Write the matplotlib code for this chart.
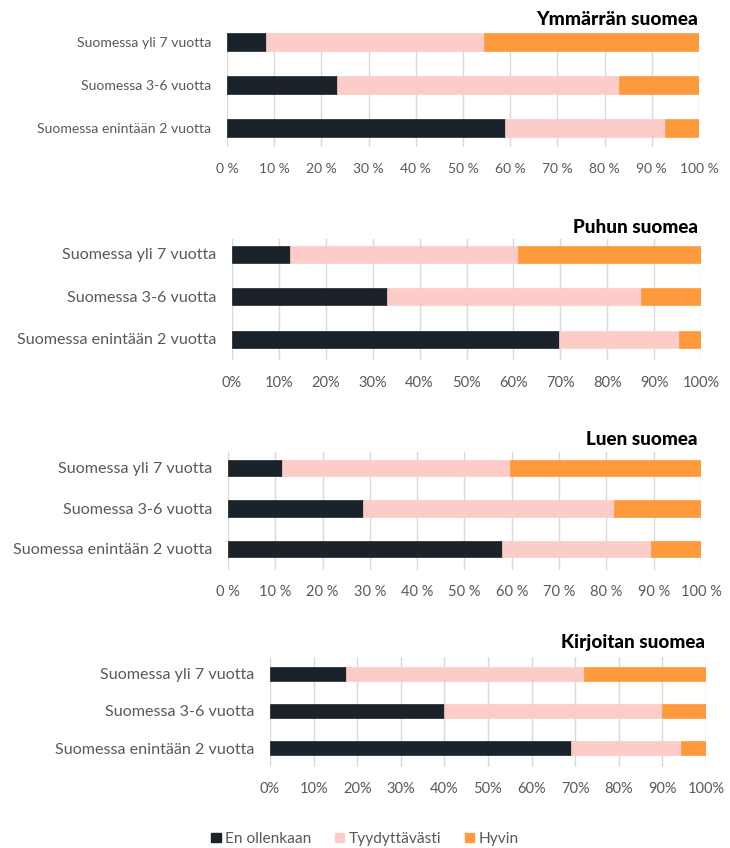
import matplotlib
matplotlib.use("Agg")
import matplotlib.pyplot as plt
from matplotlib.patches import Patch

# ---------------- data ----------------
categories = ["Suomessa enintään 2 vuotta", "Suomessa 3-6 vuotta", "Suomessa yli 7 vuotta"]
series_names = ["En ollenkaan", "Tyydyttävästi", "Hyvin"]
titles = ["Ymmärrän suomea", "Puhun suomea", "Luen suomea", "Kirjoitan suomea"]

ymmarran_en = [58.9, 23.4, 8.3]
ymmarran_tyy = [33.9, 59.7, 46.1]
ymmarran_hyv = [7.2, 16.9, 45.6]

puhun_en = [69.8, 33.0, 12.3]
puhun_tyy = [25.5, 54.2, 48.6]
puhun_hyv = [4.7, 12.8, 39.1]

luen_en = [57.9, 28.6, 11.4]
luen_tyy = [31.6, 53.1, 48.3]
luen_hyv = [10.5, 18.3, 40.3]

kirjoitan_en = [69.1, 40.0, 17.5]
kirjoitan_tyy = [25.2, 49.9, 54.6]
kirjoitan_hyv = [5.7, 10.1, 27.9]

tick_values = [0, 10, 20, 30, 40, 50, 60, 70, 80, 90, 100]
tick_labels_spaced = ["0 %", "10 %", "20 %", "30 %", "40 %", "50 %", "60 %", "70 %", "80 %", "90 %", "100 %"]
tick_labels_plain = ["0%", "10%", "20%", "30%", "40%", "50%", "60%", "70%", "80%", "90%", "100%"]

panel_data = [
    (ymmarran_en, ymmarran_tyy, ymmarran_hyv),
    (puhun_en, puhun_tyy, puhun_hyv),
    (luen_en, luen_tyy, luen_hyv),
    (kirjoitan_en, kirjoitan_tyy, kirjoitan_hyv),
]
panel_ticklabels = [tick_labels_spaced, tick_labels_plain, tick_labels_spaced, tick_labels_plain]

# ---------------- style ----------------
colors = ["#1b232a", "#fcccc8", "#fe9a3c"]
text_grey = "#595959"
grid_grey = "#d9d9d9"

W, H = 730, 848
fig = plt.figure(figsize=(W / 100, H / 100), dpi=100)

# layout in pixels: x0, x1, center of top bar, center of bottom bar, ylim pad top, pad bottom,
# ylabel size, xtick size
layouts = [
    (227, 699, 42, 128, 0.22, 0.45, 10.1, 10.0),
    (232, 701, 254, 339, 0.35, 0.50, 11.6, 10.5),
    (228, 701, 468, 549, 0.40, 0.52, 11.6, 10.5),
    (270, 706, 674, 748, 0.46, 0.50, 11.6, 10.5),
]
# title: right x, baseline y, size
title_pos = [(698, 25, 13.75), (698, 233, 13.6), (698, 445, 13.6), (705, 648, 13.6)]

label_font = "Lato"

for i, (d, tl, lay, tp) in enumerate(zip(panel_data, panel_ticklabels, layouts, title_pos)):
    x0, x1, ct, cb, pt, pb, ys, xs = lay
    sp = (cb - ct) / 2.0
    ytop = ct - pt * sp
    ybot = cb + pb * sp
    ax = fig.add_axes([x0 / W, 1 - ybot / H, (x1 - x0) / W, (ybot - ytop) / H])
    ypos = list(range(len(categories)))
    left = [0.0] * len(categories)
    for vals, col in zip(d, colors):
        ax.barh(ypos, vals, left=left, height=0.4, color=col, edgecolor=col,
                linewidth=0.5, zorder=3)
        left = [l + v for l, v in zip(left, vals)]
    ax.set_xlim(0, 100)
    ax.set_ylim(-pb, 2 + pt)
    ax.set_xticks(tick_values)
    ax.set_xticklabels(tl)
    ax.set_yticks(ypos)
    ax.set_yticklabels(categories)
    ax.grid(axis="x", color=grid_grey, linewidth=1.0, zorder=0)
    ax.grid(axis="y", visible=False)
    for s in ax.spines.values():
        s.set_visible(False)
    ax.tick_params(axis="both", length=0, colors=text_grey)
    ax.tick_params(axis="x", pad=11, labelsize=xs)
    ax.tick_params(axis="y", pad=11.5, labelsize=ys)
    for lab in ax.get_xticklabels() + ax.get_yticklabels():
        lab.set_fontfamily(label_font)
        lab.set_color(text_grey)
    tx, ty, tsz = tp
    fig.text(tx / W, 1 - ty / H, titles[i], ha="right", va="baseline",
             fontsize=tsz, fontweight="black", family="Lato", color="#000000")

handles = [Patch(facecolor=c, edgecolor=c) for c in colors]
leg = fig.legend(handles, series_names, loc="center", bbox_to_anchor=(365 / W, 1 - 839 / H),
                 ncol=3, frameon=False, handlelength=0.6, handleheight=0.6,
                 handletextpad=0.3, columnspacing=1.5,
                 prop={"family": label_font, "size": 11.2})
for t in leg.get_texts():
    t.set_color(text_grey)

fig.savefig("out.png", dpi=100, facecolor="white")
